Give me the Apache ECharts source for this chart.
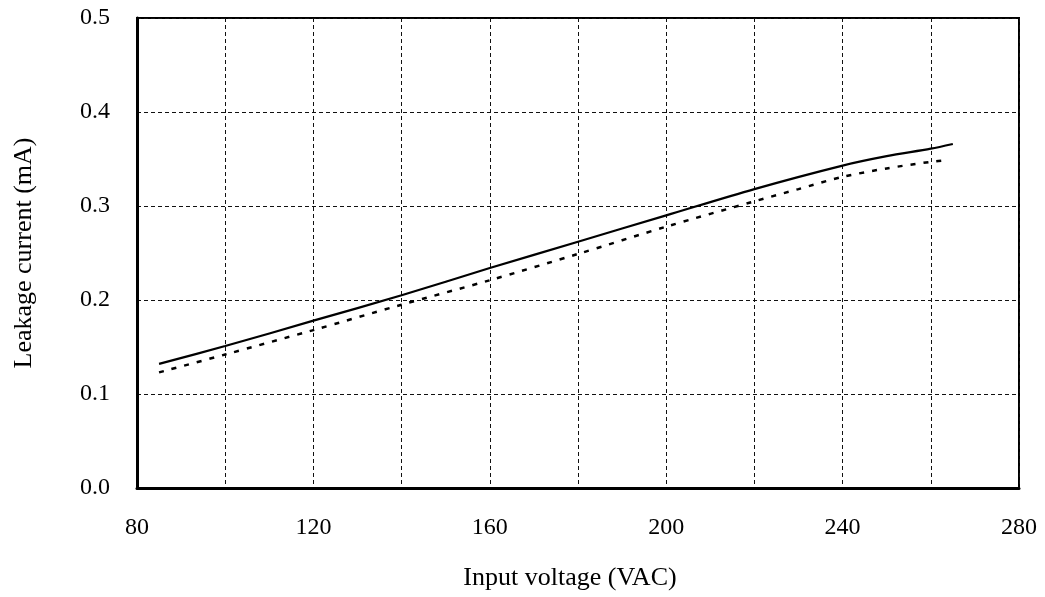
<!DOCTYPE html>
<html>
<head>
<meta charset="utf-8">
<script src="https://cdn.jsdelivr.net/npm/echarts@6/dist/echarts.min.js"></script>
<style>
  html, body { margin: 0; padding: 0; background: #fff; }
  #chart { width: 1045px; height: 597px; }
</style>
</head>
<body>
<div id="chart"></div>
<script>
// Input voltage (VAC) sample points and leakage current (mA) for each curve
const solidVoltage = [85, 100, 120, 140, 160, 180, 200, 220, 240, 250, 260, 265];
const solidCurrent = [0.132, 0.151, 0.178, 0.205, 0.234, 0.262, 0.290, 0.318, 0.343, 0.353, 0.361, 0.366];

const dashedVoltage = [85, 100, 120, 140, 160, 180, 200, 220, 230, 240, 250, 260, 264];
const dashedCurrent = [0.123, 0.142, 0.168, 0.195, 0.221, 0.249, 0.278, 0.305, 0.318, 0.331, 0.340, 0.347, 0.349];

// Labelled ticks on each axis
const xTickLabels = [80, 120, 160, 200, 240, 280];
const yTickLabels = [0.0, 0.1, 0.2, 0.3, 0.4, 0.5];

const pairs = (xs, ys) => xs.map((x, i) => [x, ys[i]]);
const FONT = 'Liberation Serif';

const chart = echarts.init(document.getElementById('chart'), null, { renderer: 'canvas' });

chart.setOption({
  animation: false,
  backgroundColor: '#ffffff',
  grid: {
    left: 137, right: 26, top: 18, bottom: 109,
    show: true, borderColor: '#000', borderWidth: 2, backgroundColor: 'transparent'
  },
  xAxis: {
    type: 'value',
    min: 80, max: 280, interval: 20,
    name: 'Input voltage (VAC)',
    nameLocation: 'middle',
    nameGap: 77,
    nameTextStyle: { fontFamily: FONT, fontSize: 26, color: '#000', padding: [0, 16, 0, 0] },
    axisLine: { show: true, lineStyle: { color: '#000', width: 3 } },
    axisTick: { show: false },
    axisLabel: {
      margin: 28,
      fontFamily: FONT, fontSize: 24, color: '#000',
      formatter: v => (xTickLabels.includes(v) ? String(v) : '')
    },
    splitLine: { show: true, lineStyle: { color: '#111', width: 1, type: [4, 3] } }
  },
  yAxis: {
    type: 'value',
    min: 0, max: 0.5, interval: 0.1,
    name: 'Leakage current (mA)',
    nameLocation: 'middle',
    nameGap: 100,
    nameRotate: 90,
    nameTextStyle: { fontFamily: FONT, fontSize: 26, color: '#000' },
    axisLine: { show: true, lineStyle: { color: '#000', width: 3 } },
    axisTick: { show: false },
    axisLabel: {
      margin: 27,
      fontFamily: FONT, fontSize: 24, color: '#000',
      formatter: v => {
        const hit = yTickLabels.find(t => Math.abs(t - v) < 1e-9);
        return hit === undefined ? '' : hit.toFixed(1);
      }
    },
    splitLine: { show: true, lineStyle: { color: '#111', width: 1, type: [4, 3] } }
  },
  series: [
    {
      type: 'line',
      data: pairs(solidVoltage, solidCurrent),
      smooth: 0.3,
      showSymbol: false,
      lineStyle: { color: '#000', width: 2.2 }
    },
    {
      type: 'line',
      data: pairs(dashedVoltage, dashedCurrent),
      smooth: 0.3,
      showSymbol: false,
      lineStyle: { color: '#000', width: 2.5, type: [5, 8] }
    }
  ]
});
</script>
</body>
</html>
